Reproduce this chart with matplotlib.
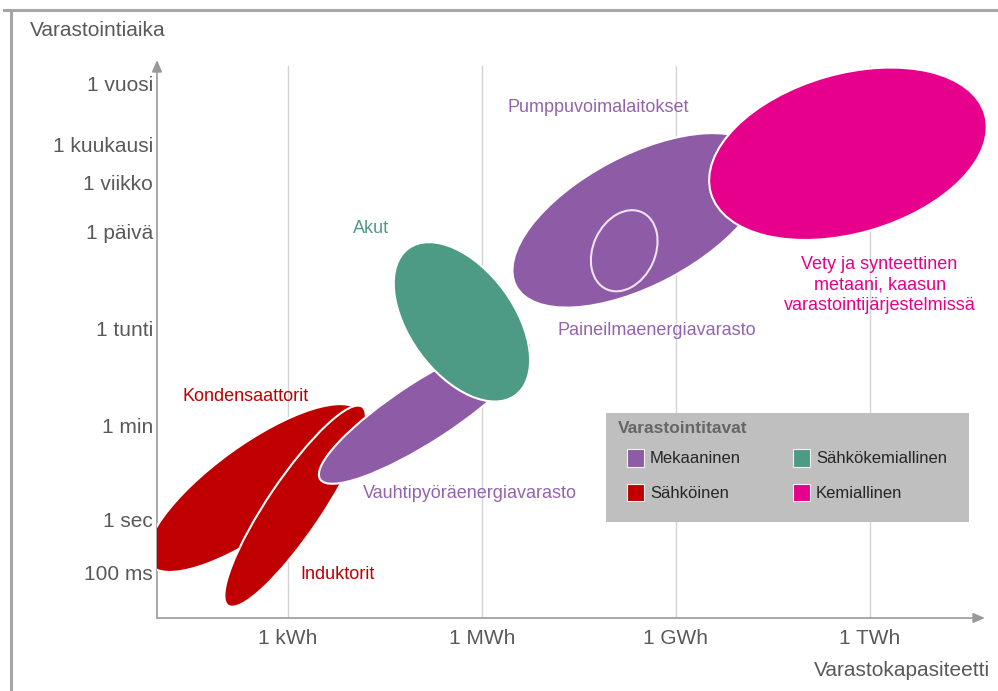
import matplotlib
matplotlib.use('Agg')
import matplotlib.pyplot as plt
from matplotlib.patches import Ellipse, Rectangle
from matplotlib.lines import Line2D

plt.rcParams['font.family'] = ['Liberation Sans', 'DejaVu Sans']

# axes: x = log10(Wh), y = schematic storage-time scale (same unit size as x)
x_ticks = [3, 6, 9, 12]
x_labels = ['1 kWh', '1 MWh', '1 GWh', '1 TWh']
y_ticks = [8.27, 7.33, 6.73, 5.98, 4.48, 2.98, 1.52, 0.71]
y_labels = ['1 vuosi', '1 kuukausi', '1 viikko', '1 päivä', '1 tunti', '1 min', '1 sec', '100 ms']
x_lim = (0.974, 13.78)
y_lim = (0.0, 8.63)

# storage technology regions (ellipses)
shape_names = ['Pumppuvoimalaitokset', 'Kemiallinen', 'Kondensaattorit', 'Induktorit',
               'Vauhtipyörä', 'Akut']
shape_x = [8.44, 11.66, 2.49, 3.11, 5.12, 5.69]
shape_y = [6.15, 7.18, 2.01, 1.73, 3.20, 4.58]
shape_w = [4.33, 4.41, 4.02, 3.71, 3.87, 2.81]
shape_h = [2.01, 2.47, 1.33, 0.84, 0.93, 1.62]
shape_angle = [28, 16, 36, 56, 33, -54]
shape_color = ['#8E5BA6', '#E6008C', '#C00000', '#C00000', '#8E5BA6', '#4E9B85']
shape_clip = [False, False, True, False, False, False]

# compressed air: outline only, inside the pumped hydro region
caes_x, caes_y, caes_w, caes_h, caes_angle = 8.20, 5.68, 1.31, 0.96, 65

# region labels
label_text = ['Pumppuvoimalaitokset', 'Akut',
              'Vety ja synteettinen\nmetaani, kaasun\nvarastointijärjestelmissä',
              'Paineilmaenergiavarasto', 'Kondensaattorit',
              'Vauhtipyöräenergiavarasto', 'Induktorit']
label_x = [6.40, 4.28, 12.15, 8.71, 2.35, 5.81, 3.76]
label_y = [7.90, 6.03, 5.15, 4.44, 3.43, 1.92, 0.67]
label_ha = ['left', 'center', 'center', 'center', 'center', 'center', 'center']
label_color = ['#9563AD', '#4E9B85', '#E6008C', '#9563AD', '#C00000', '#9563AD', '#C00000']

legend_title = 'Varastointitavat'
legend_labels = ['Mekaaninen', 'Sähkökemiallinen', 'Sähköinen', 'Kemiallinen']
legend_colors = ['#8E5BA6', '#4E9B85', '#C00000', '#E6008C']

# --------------------------------------------------------------------------- #

fig = plt.figure(figsize=(9.98, 6.91), dpi=100)
ax = fig.add_axes([157/998, 73/691, 828/998, 558/691])
ax.set_xlim(*x_lim)
ax.set_ylim(*y_lim)

for s in ax.spines.values():
    s.set_visible(False)

ax.set_xticks(x_ticks)
ax.set_xticklabels(x_labels)
ax.set_yticks(y_ticks)
ax.set_yticklabels(y_labels)
ax.tick_params(axis='both', length=0, labelsize=15, labelcolor='#595959')
ax.tick_params(axis='x', pad=8)
ax.tick_params(axis='y', pad=3)

for xv in x_ticks:
    ax.axvline(xv, ymax=0.99, color='#D3D3D3', lw=1.0, zorder=0)

# axis arrows
arrow = dict(arrowstyle='-|>,head_length=0.7,head_width=0.3', color='#999999', lw=1.2,
             shrinkA=0, shrinkB=0)
ax.annotate('', xy=(1, 0), xytext=(0, 0), xycoords='axes fraction', arrowprops=arrow)
ax.annotate('', xy=(0, 1), xytext=(0, 0), xycoords='axes fraction', arrowprops=arrow)

for i in range(len(shape_names)):
    e = Ellipse((shape_x[i], shape_y[i]), shape_w[i], shape_h[i], angle=shape_angle[i],
                facecolor=shape_color[i], edgecolor='white', lw=1.5, zorder=2 + i)
    ax.add_patch(e)
    e.set_clip_on(shape_clip[i])
    if i == 0:
        inner = Ellipse((caes_x, caes_y), caes_w, caes_h, angle=caes_angle,
                        facecolor='none', edgecolor='#EDE3F2', lw=1.5, zorder=2.5)
        ax.add_patch(inner)

for i in range(len(label_text)):
    ax.text(label_x[i], label_y[i], label_text[i], ha=label_ha[i], va='center',
            color=label_color[i], fontsize=13, linespacing=1.3, zorder=20)

# legend box (axes fraction coordinates)
ax.add_patch(Rectangle((0.5423, 0.1720), 0.4384, 0.1954, transform=ax.transAxes,
                       facecolor='#BFBFBF', edgecolor='none', zorder=30))
ax.text(0.5568, 0.3405, legend_title, transform=ax.transAxes, fontsize=12.5,
        fontweight='bold', color='#666666', ha='left', va='center', zorder=31)
col_x = [0.5676, 0.7681]
row_y = [0.2867, 0.2240]
for i, lab in enumerate(legend_labels):
    cx = col_x[i % 2]
    cy = row_y[i // 2]
    ax.add_patch(Rectangle((cx, cy - 0.0152), 0.0205, 0.0305, transform=ax.transAxes,
                           facecolor=legend_colors[i], edgecolor='#F2F2F2', lw=0.8,
                           zorder=31))
    ax.text(cx + 0.0278, cy, lab, transform=ax.transAxes, fontsize=12, color='#262626',
            ha='left', va='center', zorder=31)

fig.text(30/998, 1 - 30/691, 'Varastointiaika', fontsize=15, color='#595959',
         ha='left', va='center')
fig.text(990/998, 1 - 670/691, 'Varastokapasiteetti', fontsize=15, color='#595959',
         ha='right', va='center')

# outer frame (top and left)
fig.add_artist(Line2D([4/998, 1], [1 - 9.5/691, 1 - 9.5/691], transform=fig.transFigure,
                      color='#A6A6A6', lw=2.2))
fig.add_artist(Line2D([10.5/998, 10.5/998], [0, 1 - 9.5/691], transform=fig.transFigure,
                      color='#A6A6A6', lw=2.2))

plt.savefig('out.png', dpi=100)
